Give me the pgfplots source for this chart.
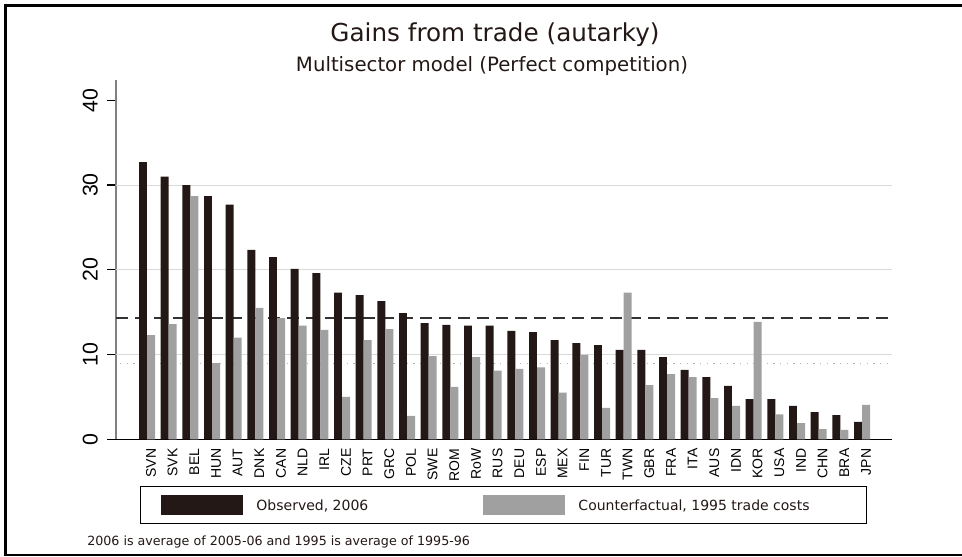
\documentclass[border=0pt]{standalone}
\usepackage{fontspec}
\setmainfont{Liberation Sans}
\newfontfamily\din{DejaVu Sans}
\usepackage{pgfplots}
\usepackage{pgfplotstable}
\pgfplotsset{compat=1.18}
\definecolor{obs}{HTML}{231816}
\definecolor{cf}{HTML}{A0A0A0}
\definecolor{txt}{HTML}{231816}

% gains from trade, % of income
\pgfplotstableread{
x obs cf
0 32.7 12.3
1 31.0 13.6
2 30.0 28.7
3 28.7 9.0
4 27.7 12.0
5 22.35 15.5
6 21.5 14.3
7 20.1 13.4
8 19.6 12.9
9 17.3 5.0
10 17.0 11.7
11 16.3 13.0
12 14.9 2.75
13 13.7 9.8
14 13.5 6.2
15 13.4 9.7
16 13.4 8.1
17 12.8 8.3
18 12.65 8.5
19 11.7 5.5
20 11.35 9.95
21 11.1 3.7
22 10.55 17.3
23 10.55 6.4
24 9.7 7.7
25 8.2 7.35
26 7.35 4.85
27 6.3 3.95
28 4.75 13.85
29 4.75 2.95
30 3.95 1.9
31 3.2 1.2
32 2.85 1.1
33 2.05 4.05
}\gains

\begin{document}
\begin{tikzpicture}
\path[use as bounding box] (0,0) rectangle (721.5pt,417pt);
% frame
\draw[line width=2.25pt] (4.1pt,0) -- (4.1pt,412.9pt) -- (721.5pt,412.9pt);
\draw[line width=1.5pt] (4.1pt,0.75pt) -- (721.5pt,0.75pt);

\node[anchor=base, font=\din\fontsize{18.5}{20}\selectfont, text=txt] at (371.25pt,385.5pt) {Gains from trade (autarky)};
\node[anchor=base, font=\din\fontsize{14.8}{17}\selectfont, text=txt] at (369pt,363pt) {Multisector model (Perfect competition)};
\node[anchor=base west, font=\din\fontsize{9.5}{11}\selectfont, text=txt, inner sep=0pt] at (65.25pt,8.25pt) {2006 is average of 2005-06 and 1995 is average of 1995-96};

\begin{axis}[
  at={(87pt,87.525pt)}, anchor=south west,
  scale only axis,
  width=582pt, height=269.5pt,
  xmin=-1.431, xmax=34.385,
  ymin=0, ymax=42.4,
  axis lines=left,
  axis line style={-},
  x axis line style={black, line width=0.9pt},
  y axis line style={draw=gray, line width=1pt},
  xtick={0,...,33},
  xticklabels={SVN,SVK,BEL,HUN,AUT,DNK,CAN,NLD,IRL,CZE,PRT,GRC,POL,SWE,ROM,RoW,RUS,DEU,ESP,MEX,FIN,TUR,TWN,GBR,FRA,ITA,AUS,IDN,KOR,USA,IND,CHN,BRA,JPN},
  xtick style={draw=none},
  xticklabel style={rotate=90, anchor=east, inner sep=0pt, yshift=-3pt, font=\fontsize{10.5}{12}\selectfont},
  ytick={0,10,20,30,40},
  yticklabels={0,10,20,30,40},
  tick align=outside,
  major tick length=6.75pt,
  ytick style={black, line width=0.9pt},
  yticklabel style={rotate=90, anchor=south, inner sep=0pt, yshift=6.75pt, font=\fontsize{16}{18}\selectfont},
  extra y ticks={10,20,30},
  extra y tick labels={},
  extra y tick style={ymajorgrids=true, major tick length=0pt},
  grid style={draw=black!15, line width=0.8pt},
  clip=false,
  legend image code/.code={\fill[#1] (0pt,-3.6pt) rectangle (61.5pt,11.4pt);},
  legend columns=2,
  legend style={at={(0.0309,-0.130)}, anchor=north west, draw=black, line width=0.75pt,
    inner xsep=15.75pt, inner ysep=6.4pt,
    nodes={inner sep=0pt, anchor=base west},
    /tikz/every odd column/.append style={column sep=9.75pt},
    font=\din\fontsize{10.5}{12}\selectfont, text=txt},
]
\addplot[forget plot, color=black!80, line width=1.1pt, dash pattern=on 9pt off 5.25pt] coordinates {(-1.431,14.32) (34.385,14.32)};
\addplot[forget plot, color=black!30, line width=0.8pt, dash pattern=on 1.1pt off 3.9pt] coordinates {(-1.25,8.97) (34.385,8.97)};
\addplot[ybar, bar width=0.369, bar shift=-0.185, fill=obs, draw=none] table[x=x, y=obs] {\gains};
\addplot[ybar, bar width=0.369, bar shift=0.185, fill=cf, draw=none] table[x=x, y=cf] {\gains};
\legend{\makebox[170.25pt][l]{Observed, 2006}, \makebox[200.25pt][l]{Counterfactual, 1995 trade costs}}
\end{axis}
\end{tikzpicture}
\end{document}
